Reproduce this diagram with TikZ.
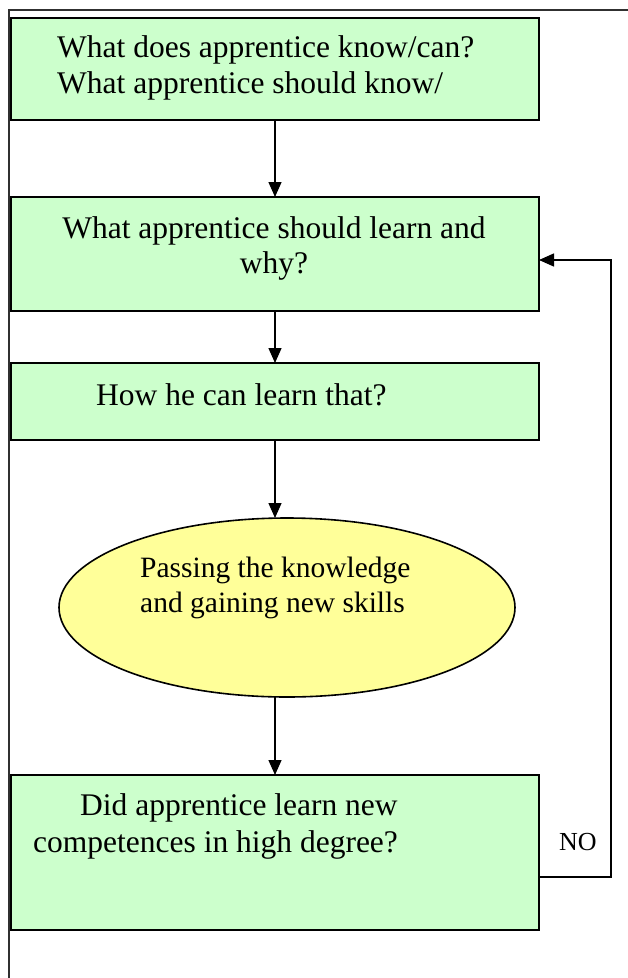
\documentclass[tikz,border=0pt]{standalone}
\usepackage{fontspec}
\setmainfont{Liberation Serif}
\usetikzlibrary{arrows.meta,shapes.geometric}

\definecolor{boxgreen}{HTML}{CCFFCC}
\definecolor{ovalyellow}{HTML}{FFFF99}
\definecolor{framegray}{HTML}{303030}

\tikzset{
  stepbox/.style={draw=black, line width=2pt, fill=boxgreen, rectangle,
    minimum width=528pt, inner sep=0pt, outer sep=0pt},
  oval/.style={draw=black, line width=1.6pt, fill=ovalyellow, ellipse,
    minimum width=456pt, minimum height=179pt, inner sep=0pt, outer sep=0pt},
  flow/.style={draw=black, line width=1.4pt,
    -{Triangle[width=13pt,length=15pt]}},
  plain/.style={draw=black, line width=1.4pt},
  frameline/.style={draw=framegray, line width=1.8pt},
  txt/.style={anchor=base west, inner sep=0pt, font=\fontsize{31.5}{36}\selectfont},
  ctxt/.style={anchor=base, inner sep=0pt, font=\fontsize{31.5}{36}\selectfont},
  otxt/.style={anchor=base west, inner sep=0pt, font=\fontsize{29.5}{34}\selectfont},
  lbl/.style={anchor=base west, inner sep=0pt, font=\fontsize{26}{30}\selectfont}
}

\begin{document}
\begin{tikzpicture}[x=1pt, y=-1pt]
  \useasboundingbox (0,0) rectangle (628,978);

  % outer frame (top and left edges)
  \draw[frameline] (9,978) -- (9,10) -- (628,10);

  % process boxes
  \node[stepbox, minimum height=102pt] (b1) at (275,69) {};
  \node[stepbox, minimum height=114pt] (b2) at (275,254) {};
  \node[stepbox, minimum height=77pt]  (b3) at (275,401.5) {};
  \node[oval] (ov) at (287,607.5) {};
  \node[stepbox, minimum height=155pt] (b5) at (275,852.5) {};

  % texts
  \node[txt] (t1a) at (57,57) {What does apprentice know/can?};
  \node[txt] (t1b) at (57,93) {What apprentice should know/};
  \node[ctxt] (t2a) at (274,238) {What apprentice should learn and};
  \node[ctxt] (t2b) at (274,273) {why?};
  \node[txt] (t3) at (96,405) {How he can learn that?};
  \node[otxt] (t4a) at (140,577) {Passing the knowledge};
  \node[otxt] (t4b) at (140,612) {and gaining new skills};
  \node[txt] (t5a) at (80,815) {Did apprentice learn new};
  \node[txt] (t5b) at (33,852) {competences in high degree?};
  \node[lbl] (no) at (559,850) {NO};

  % main flow
  \draw[flow] (b1.south) -- (b2.north);
  \draw[flow] (b2.south) -- (b3.north);
  \draw[flow] (b3.south) -- (ov.north -| b3.south);
  \draw[flow] (ov.south -| b5.north) -- (b5.north);

  % feedback loop
  \coordinate (fbout) at (b5.east |- 0,877);
  \coordinate (fbin)  at (b2.east |- 0,260);
  \coordinate (fbcorner) at (611,877);
  \draw[flow] (fbout) -- (fbcorner) |- (fbin);
\end{tikzpicture}
\end{document}
